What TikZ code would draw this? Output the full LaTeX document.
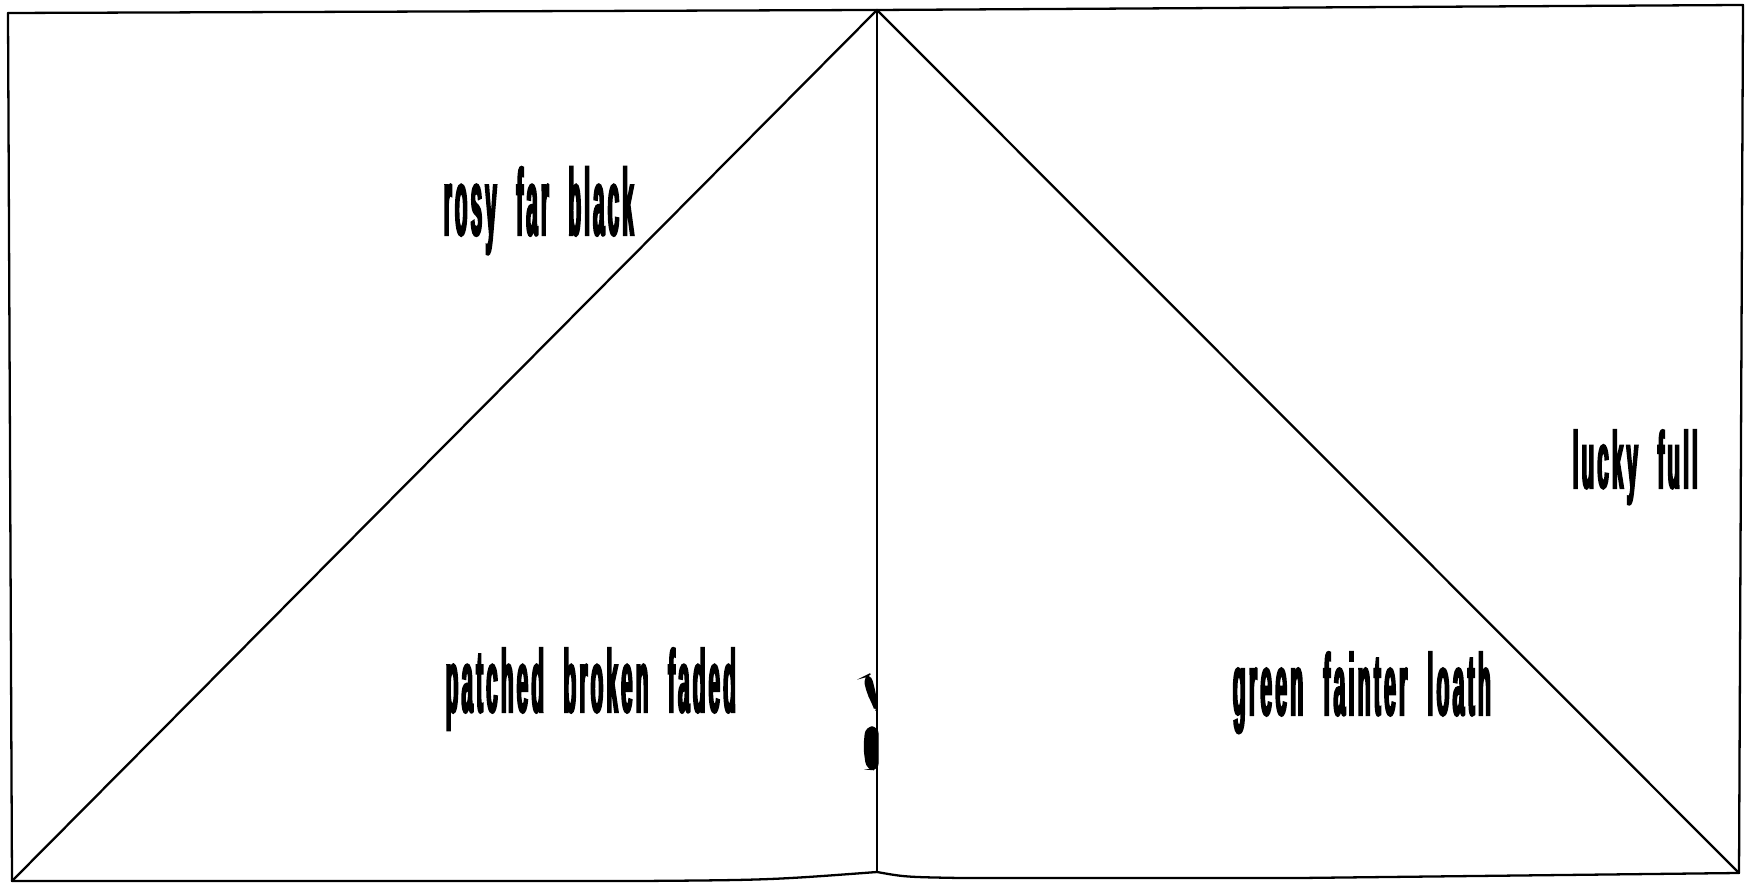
\documentclass[tikz,border=0pt]{standalone}
\usepackage{fontspec}
\newfontfamily\labfont{Liberation Sans Bold}[FakeStretch=0.33,FakeBold=2.6,LetterSpace=5,WordSpace=2.2]
\tikzset{
  edge/.style={line width=0.65pt, line join=round, line cap=round},
  lab/.style={anchor=base west, inner sep=0pt, font=\labfont},
  blob/.style={fill=black, draw=black, line width=0.4pt, rounded corners=2pt}
}
\begin{document}
\begin{tikzpicture}[x=0.01cm, y=-0.01cm]
\useasboundingbox (0,0) rectangle (1752,883);
% corners
\coordinate (tl) at (8,13);
\coordinate (apex) at (877,10);
\coordinate (tr) at (1743,5);
\coordinate (br) at (1739,873);
\coordinate (mb) at (877,872);
\coordinate (bl) at (12,881);
% frame
\draw[edge] (tl) -- (apex) -- (tr) -- (br);
\draw[edge] (tl) -- (bl);
\draw[edge] (bl) -- (640,881) .. controls (770,880) .. (mb);
\draw[edge] (mb) .. controls (905,877) .. (960,878) -- (1300,878) -- (br);
% triangles
\draw[edge] (bl) -- (apex) -- (br);
\draw[edge] (apex) -- (mb);
% scan blots on the middle line
\fill[blob] (864,677) -- (870,674) -- (874,688) -- (877,704) -- (876,712) -- (872,702) -- (867,692) -- cycle;
\fill[blob] (866,727) -- (878,727) -- (878,770) -- (867,769) -- (864,748) -- cycle;
% labels
\node[lab] (rosy) at (443,235) {\resizebox{1.90cm}{0.68cm}{rosy far black}};
\node[lab] (patched) at (445,712) {\resizebox{2.90cm}{0.64cm}{patched broken faded}};
\node[lab] (green) at (1232,715) {\resizebox{2.58cm}{0.63cm}{green fainter loath}};
\node[lab] (lucky) at (1572,488) {\resizebox{1.25cm}{0.58cm}{lucky full}};
\end{tikzpicture}
\end{document}
